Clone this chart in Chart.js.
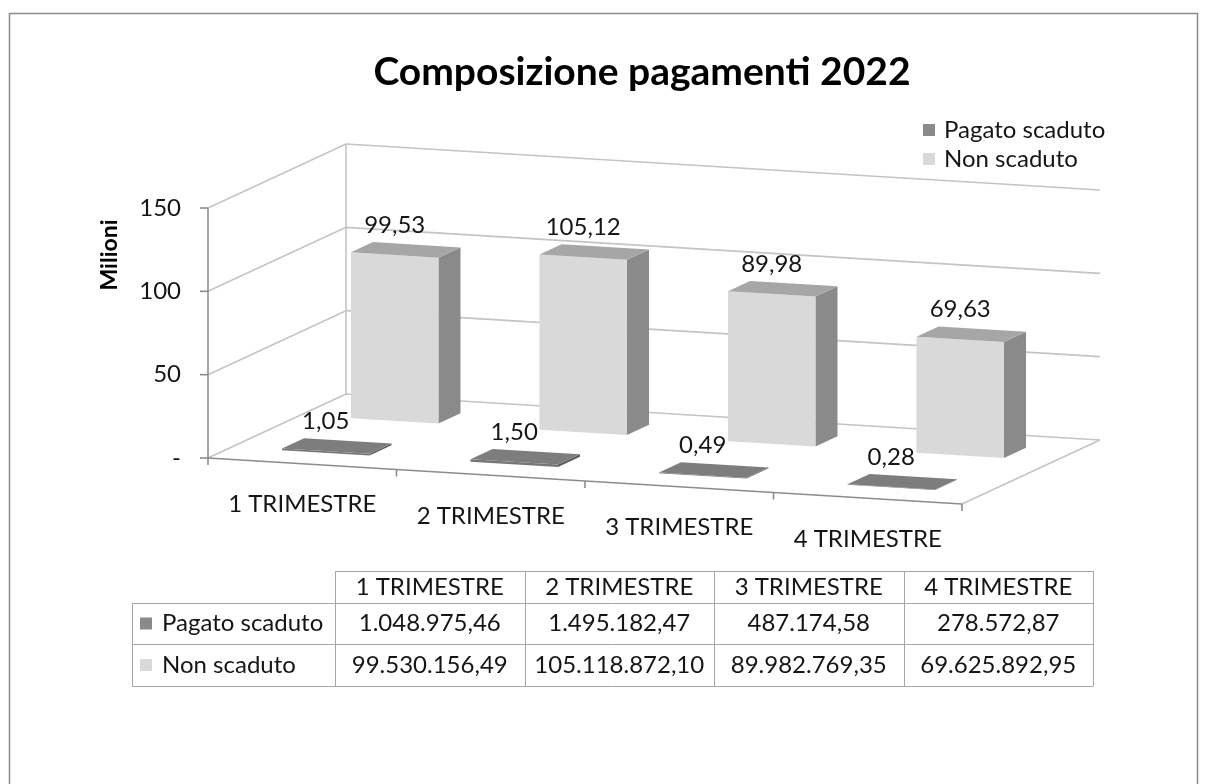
<!DOCTYPE html>
<html lang="it">
<head>
<meta charset="utf-8">
<title>Composizione pagamenti 2022</title>
<script src="https://cdn.jsdelivr.net/npm/chart.js@4"></script>
<style>
  html, body { margin: 0; padding: 0; background: #fff; }
  #wrap { position: relative; width: 1207px; height: 784px; }
</style>
</head>
<body>
<div id="wrap"><canvas id="pagChart"></canvas></div>
<script>
// dati (euro) per trimestre
const trimestri = ["1 TRIMESTRE", "2 TRIMESTRE", "3 TRIMESTRE", "4 TRIMESTRE"];
const pagatoScaduto = [1048975.46, 1495182.47, 487174.58, 278572.87];
const nonScaduto = [99530156.49, 105118872.10, 89982769.35, 69625892.95];
const serieNomi = ["Pagato scaduto", "Non scaduto"];
const yTicks = [0, 50, 100, 150];
const yTickLabels = ["-", "50", "100", "150"];

const FONT = 'Lato, "Open Sans", sans-serif';
const TXT = '#151515';

// colori delle facce per serie: fronte, sopra, lato
const shade = [
  { front: '#767676', top: '#7d7d7d', side: '#5c5c5c', key: '#8a8a8a' },
  { front: '#d9d9d9', top: '#a6a6a6', side: '#8a8a8a', key: '#d9d9d9' }
];

// vista obliqua: profondita' del pavimento e inclinazione dell'asse x
const DEPTH_X = 138, DEPTH_Y = -64, SKEW = 46 / 754;
const rowCenter = [0.25, 0.75];
const barDepth = 0.16;

function formatIt(v) {
  const parts = v.toFixed(2).split('.');
  return parts[0].replace(/\B(?=(\d{3})+(?!\d))/g, '.') + ',' + parts[1];
}

function makeProj(area) {
  return (px, py, z) => [px + z * DEPTH_X, py + (px - area.left) * SKEW + z * DEPTH_Y];
}

function line(ctx, p, q) {
  ctx.beginPath();
  ctx.moveTo(p[0], p[1]);
  ctx.lineTo(q[0], q[1]);
  ctx.stroke();
}

function poly(ctx, pts, color) {
  ctx.beginPath();
  ctx.moveTo(pts[0][0], pts[0][1]);
  for (let i = 1; i < pts.length; i++) ctx.lineTo(pts[i][0], pts[i][1]);
  ctx.closePath();
  ctx.fillStyle = color;
  ctx.fill();
}

const view3d = {
  id: 'view3d',
  beforeDraw(chart) {
    const ctx = chart.ctx, a = chart.chartArea;
    const ys = chart.scales.y, xs = chart.scales.x;
    const P = makeProj(a);
    ctx.save();
    ctx.fillStyle = '#fff';
    ctx.fillRect(0, 0, chart.width, chart.height);

    // cornice
    ctx.strokeStyle = '#8c8c8c';
    ctx.lineWidth = 1.5;
    ctx.strokeRect(9.5, 13.5, 1188, 790);

    // titolo
    ctx.fillStyle = '#000';
    ctx.font = 'bold 39px ' + FONT;
    ctx.textAlign = 'center';
    ctx.textBaseline = 'middle';
    ctx.fillText('Composizione pagamenti 2022', 642, 72);

    // legenda
    ctx.font = '24px ' + FONT;
    ctx.textAlign = 'left';
    serieNomi.forEach((n, i) => {
      const y = 130 + i * 29;
      ctx.fillStyle = shade[i].key;
      ctx.fillRect(923, y - 6, 12, 12);
      ctx.fillStyle = TXT;
      ctx.fillText(n, 944, y);
    });

    // pareti e pavimento
    ctx.strokeStyle = '#c4c4c4';
    ctx.lineWidth = 1.6;
    yTicks.forEach(v => {
      const py = ys.getPixelForValue(v);
      line(ctx, P(a.left, py, 0), P(a.left, py, 1));
      line(ctx, P(a.left, py, 1), P(a.right, py, 1));
    });
    line(ctx, P(a.left, a.top, 1), P(a.left, a.bottom, 1));
    line(ctx, P(a.right, a.bottom, 0), P(a.right, a.bottom, 1));

    // assi
    ctx.strokeStyle = '#8c8c8c';
    line(ctx, P(a.left, a.top, 0), P(a.left, a.bottom, 0));
    line(ctx, P(a.left, a.bottom, 0), P(a.right, a.bottom, 0));

    ctx.font = '24px ' + FONT;
    ctx.fillStyle = TXT;
    ctx.textAlign = 'right';
    yTicks.forEach((v, i) => {
      const p = P(a.left, ys.getPixelForValue(v), 0);
      line(ctx, [p[0] - 8, p[1]], p);
      ctx.fillText(yTickLabels[i], p[0] - 27, p[1]);
    });

    const x0 = xs.getPixelForValue(0);
    const catW = xs.getPixelForValue(1) - x0;
    for (let i = 0; i <= trimestri.length; i++) {
      const p = P(x0 - catW / 2 + i * catW, a.bottom, 0);
      line(ctx, p, [p[0], p[1] + 7]);
    }
    ctx.textAlign = 'center';
    trimestri.forEach((t, i) => {
      const p = P(xs.getPixelForValue(i), a.bottom, 0);
      ctx.fillText(t, p[0], p[1] + 41);
    });

    // titolo asse y
    ctx.save();
    ctx.translate(110, 255);
    ctx.rotate(-Math.PI / 2);
    ctx.font = 'bold 23px ' + FONT;
    ctx.fillStyle = '#000';
    ctx.fillText('Milioni', 0, 0);
    ctx.restore();
    ctx.restore();
  },

  afterDatasetsDraw(chart) {
    const ctx = chart.ctx, a = chart.chartArea;
    const P = makeProj(a);
    ctx.save();
    // fila posteriore prima, poi quella anteriore
    [1, 0].forEach(di => {
      const meta = chart.getDatasetMeta(di);
      const vals = chart.data.datasets[di].data;
      const z0 = rowCenter[di] - barDepth / 2, z1 = rowCenter[di] + barDepth / 2;
      const c = shade[di];
      meta.data.forEach(bar => {
        const { x, y, base, width } = bar.getProps(['x', 'y', 'base', 'width'], true);
        const xl = x - width / 2, xr = x + width / 2;
        poly(ctx, [P(xr, y, z0), P(xr, y, z1), P(xr, base, z1), P(xr, base, z0)], c.side);
        poly(ctx, [P(xl, base, z0), P(xr, base, z0), P(xr, y, z0), P(xl, y, z0)], c.front);
        poly(ctx, [P(xl, y, z0), P(xr, y, z0), P(xr, y, z1), P(xl, y, z1)], c.top);
      });
      ctx.font = '24px ' + FONT;
      ctx.fillStyle = TXT;
      ctx.textAlign = 'center';
      ctx.textBaseline = 'middle';
      meta.data.forEach((bar, j) => {
        const p = P(bar.x, bar.y, z0);
        ctx.fillText(vals[j].toFixed(2).replace('.', ','), p[0], p[1] - 30);
      });
    });

    // tabella dati
    const left = 132, keyW = 203, colW = 189.5, top = 571;
    const rowY = [571, 603, 644, 686];
    const right = left + keyW + colW * trimestri.length;
    ctx.strokeStyle = '#a6a6a6';
    ctx.lineWidth = 1;
    line(ctx, [left + keyW, rowY[0] + 0.5], [right, rowY[0] + 0.5]);
    for (let r = 1; r < rowY.length; r++) line(ctx, [left, rowY[r] + 0.5], [right, rowY[r] + 0.5]);
    line(ctx, [left + 0.5, rowY[1]], [left + 0.5, rowY[3]]);
    for (let c = 0; c <= trimestri.length; c++) {
      const xx = Math.round(left + keyW + c * colW) + 0.5;
      line(ctx, [xx, top], [xx, rowY[3]]);
    }
    ctx.font = '24px ' + FONT;
    ctx.fillStyle = TXT;
    ctx.textBaseline = 'middle';
    ctx.textAlign = 'center';
    const mid = r => (rowY[r] + rowY[r + 1]) / 2;
    trimestri.forEach((t, i) => ctx.fillText(t, left + keyW + (i + 0.5) * colW, mid(0)));
    [pagatoScaduto, nonScaduto].forEach((serie, s) => {
      const yy = mid(s + 1);
      ctx.fillStyle = shade[s].key;
      ctx.fillRect(left + 8, yy - 6, 12, 12);
      ctx.fillStyle = TXT;
      ctx.textAlign = 'left';
      ctx.fillText(serieNomi[s], left + 30, yy);
      ctx.textAlign = 'center';
      serie.forEach((v, i) => ctx.fillText(formatIt(v), left + keyW + (i + 0.5) * colW, yy));
    });
    ctx.restore();
  }
};

const trasparente = 'rgba(0,0,0,0)';

new Chart(document.getElementById('pagChart'), {
  type: 'bar',
  data: {
    labels: trimestri,
    datasets: [
      { label: serieNomi[0], data: pagatoScaduto.map(v => v / 1e6), backgroundColor: trasparente, borderColor: trasparente },
      { label: serieNomi[1], data: nonScaduto.map(v => v / 1e6), backgroundColor: trasparente, borderColor: trasparente }
    ]
  },
  options: {
    responsive: true,
    maintainAspectRatio: false,
    animation: false,
    events: [],
    layout: { padding: { left: 208, right: 245, top: 208, bottom: 326 } },
    datasets: {
      bar: {
        grouped: false,
        barPercentage: 0.464,
        categoryPercentage: 1,
        borderWidth: 0
      }
    },
    scales: {
      x: { display: false },
      y: { display: false, min: 0, max: 150 }
    },
    plugins: {
      legend: { display: false },
      title: { display: false },
      tooltip: { enabled: false },
      colors: { enabled: false }
    }
  },
  plugins: [view3d]
});
</script>
</body>
</html>
